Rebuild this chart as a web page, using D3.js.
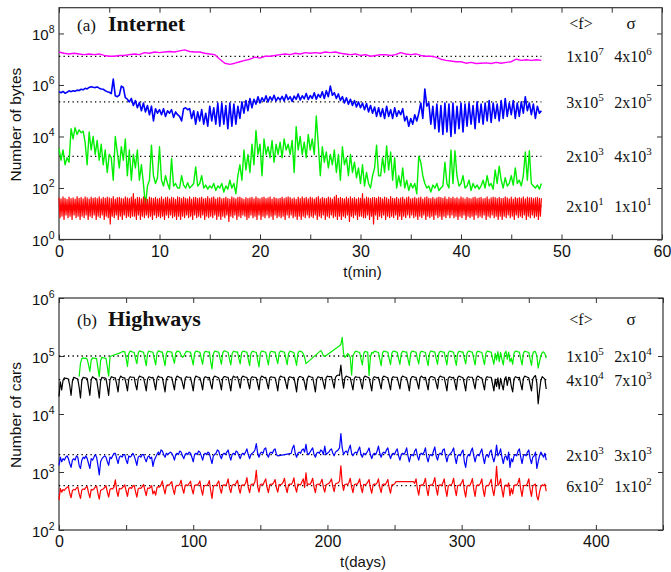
<!DOCTYPE html>
<html>
<head>
<meta charset="utf-8">
<script src="https://cdn.jsdelivr.net/npm/d3@7"></script>
<style>
  body { margin: 0; background: #fff; }
</style>
</head>
<body>
<svg id="chart" width="671" height="572"></svg>
<script>
// ---------- data: (a) Internet, sampled in minutes ----------
const tFine = d3.range(0, 48.001, 0.2);    // 241 samples
const tCoarse = d3.range(0, 48.001, 0.5);  // 97 samples
const tDense = d3.range(0, 48.001, 0.1);   // 481 samples

const netMagenta = [
  1.9e7,1.7e7,1.6e7,1.7e7,1.6e7,1.5e7,1.6e7,1.5e7,1.6e7,1.4e7,
  1.3e7,1.3e7,1.4e7,1.4e7,1.5e7,1.6e7,1.5e7,1.8e7,1.7e7,1.9e7,
  1.8e7,1.9e7,2.0e7,1.9e7,2.1e7,2.3e7,2.0e7,1.9e7,1.9e7,1.7e7,
  1.6e7,1.5e7,1.0e7,7.0e6,6.3e6,7.0e6,8.0e6,9.0e6,1.0e7,1.2e7,
  1.1e7,1.3e7,1.3e7,1.4e7,1.5e7,1.6e7,1.5e7,1.7e7,1.6e7,1.8e7,
  1.7e7,1.8e7,1.7e7,1.9e7,1.8e7,1.9e7,1.7e7,1.6e7,1.5e7,1.6e7,
  1.4e7,1.5e7,1.3e7,1.4e7,1.5e7,1.5e7,1.4e7,1.5e7,1.8e7,1.6e7,
  1.5e7,1.6e7,1.4e7,1.3e7,1.3e7,1.2e7,1.0e7,9.0e6,8.5e6,8.0e6,
  8.0e6,7.0e6,7.5e6,6.8e6,7.0e6,7.2e6,6.8e6,7.5e6,7.0e6,7.5e6,
  8.0e6,1.0e7,9.0e6,9.5e6,9.0e6,9.5e6,9.0e6
];

const netBlue = [
  5.4e5,5.0e5,5.6e5,4.8e5,5.2e5,5.9e5,5.5e5,6.0e5,5.7e5,6.3e5,
  6.1e5,6.8e5,6.5e5,7.4e5,7.0e5,8.0e5,8.6e5,8.2e5,7.9e5,8.4e5,
  7.5e5,7.0e5,6.8e5,6.0e5,5.5e5,5.2e5,4.6e5,1.7e6,3.8e5,3.5e5,
  4.0e5,9.0e5,8.0e5,3.2e5,2.8e5,2.2e5,3.0e5,1.6e5,2.5e5,1.3e5,
  2.1e5,1.0e5,2.0e5,9.0e4,1.6e5,7.0e4,1.5e5,4.0e4,1.2e5,8.0e4,
  1.1e5,7.0e4,1.2e5,6.0e4,1.0e5,8.0e4,1.1e5,5.5e4,9.0e4,7.0e4,
  6.0e4,4.0e4,1.2e5,1.3e5,1.1e5,1.2e5,5.0e4,1.0e5,3.0e4,9.0e4,
  4.0e4,1.1e5,3.0e4,8.0e4,2.5e4,1.5e5,4.0e4,1.3e5,3.0e4,2.0e5,
  2.5e4,2.0e5,3.0e4,1.6e5,2.0e4,2.0e5,2.5e4,1.8e5,3.0e4,1.5e5,
  5.0e4,2.2e5,8.0e4,2.5e5,1.0e5,3.0e5,1.3e5,2.8e5,1.8e5,3.5e5,
  2.0e5,3.2e5,2.3e5,3.8e5,2.2e5,3.5e5,2.5e5,4.0e5,2.4e5,3.3e5,
  2.6e5,3.6e5,2.4e5,4.2e5,2.7e5,3.5e5,2.3e5,3.7e5,2.8e5,4.5e5,
  2.6e5,3.8e5,2.9e5,4.7e5,2.7e5,3.9e5,3.0e5,5.0e5,2.8e5,4.3e5,
  3.3e5,5.5e5,3.0e5,6.0e5,3.5e5,9.0e5,4.0e5,5.0e5,3.0e5,4.5e5,
  2.5e5,3.5e5,2.0e5,3.2e5,1.8e5,2.8e5,1.6e5,2.5e5,1.4e5,2.2e5,
  1.3e5,2.0e5,1.1e5,1.9e5,9.0e4,1.6e5,8.0e4,1.4e5,6.0e4,1.3e5,
  6.0e4,1.2e5,5.0e4,1.5e5,6.0e4,1.1e5,5.0e4,1.3e5,6.0e4,1.0e5,
  7.0e4,1.2e5,4.0e4,6.0e4,2.5e4,5.0e4,3.0e4,7.0e4,4.0e4,8.0e4,
  2.0e5,5.0e4,7.0e5,1.5e5,2.0e5,3.0e4,1.5e5,2.0e4,1.8e5,1.5e4,
  1.6e5,1.2e4,2.0e5,1.5e4,1.8e5,1.0e4,2.0e5,1.3e4,1.5e5,2.0e4,
  2.0e5,1.5e4,1.8e5,2.5e4,2.0e5,3.0e4,1.6e5,2.0e4,2.2e5,3.5e4,
  1.8e5,3.0e4,2.0e5,4.0e4,2.5e5,3.5e4,2.0e5,5.0e4,1.8e5,4.0e4,
  2.5e5,5.0e4,3.0e5,6.0e4,2.0e5,7.0e4,2.5e5,5.0e4,2.0e5,6.0e4,
  2.2e5,8.0e4,3.5e5,1.0e5,2.0e5,7.0e4,1.8e5,5.0e4,1.5e5,8.0e4,
  1.0e5
];

const netGreen = [
  3.4e3,1.2e3,3.0e3,8.0e2,1.5e3,1.0e3,2.0e4,8.0e3,2.2e4,1.2e4,
  1.8e4,1.4e4,1.6e4,6.0e3,8.0e2,1.5e4,3.0e3,1.0e4,2.0e3,7.0e3,
  1.2e3,5.0e3,8.0e2,3.0e3,4.0e2,2.0e3,1.5e3,2.0e2,1.0e4,2.5e3,
  6.0e2,4.0e3,1.2e3,8.0e3,3.0e2,3.0e3,2.0e2,2.0e3,6.0e2,3.0e3,
  2.0e2,8.0e2,1.5e2,2.0e1,1.2e2,2.0e2,4.6e3,3.0e2,1.5e2,2.5e2,
  4.0e3,2.0e2,1.2e2,3.0e2,1.5e2,9.0e1,1.4e3,1.2e2,1.5e2,1.0e2,
  1.0e2,3.0e2,1.3e2,1.0e2,1.6e2,1.0e2,1.2e2,1.5e2,6.6e2,1.2e2,
  1.5e2,3.0e2,1.0e2,1.3e2,9.0e1,1.2e2,1.0e2,1.5e2,8.0e1,1.2e2,
  1.0e2,1.5e2,7.0e1,1.2e2,9.0e1,2.0e2,1.0e2,1.5e2,6.0e1,3.0e2,
  8.0e2,2.0e2,3.0e3,5.0e2,2.0e3,4.0e2,5.0e3,8.0e2,1.7e4,2.0e3,
  5.0e3,3.0e2,8.0e3,2.0e3,4.0e3,1.5e3,7.0e3,1.0e3,5.0e3,2.0e3,
  6.0e3,1.5e3,8.0e3,3.0e3,5.0e3,2.0e3,7.0e3,4.0e2,2.4e4,3.0e3,
  1.0e4,2.0e3,6.0e3,1.5e3,1.2e4,3.0e3,8.0e3,2.0e3,6.2e4,5.0e3,
  3.0e2,4.0e3,1.0e3,2.5e3,6.0e2,2.0e3,8.0e2,3.0e3,4.0e2,2.0e3,
  2.0e2,4.0e3,8.0e2,1.5e3,3.0e2,2.0e3,4.0e2,1.0e3,2.5e2,6.0e2,
  1.5e2,8.0e2,1.2e2,4.0e2,1.5e2,1.0e2,3.0e2,6.0e2,4.6e3,3.0e2,
  3.0e2,1.5e3,4.0e2,4.3e3,5.0e2,2.5e3,2.0e2,1.5e3,1.0e2,3.0e2,
  1.2e2,6.0e2,1.0e2,2.0e2,8.0e1,1.5e2,1.0e2,1.5e2,6.0e1,1.7e3,
  1.0e3,3.0e2,1.5e2,1.0e2,1.2e2,7.0e1,1.3e2,1.0e2,1.5e2,8.0e1,
  1.0e2,1.2e2,1.0e3,1.5e2,1.0e2,3.0e3,1.5e2,2.8e3,3.0e2,1.2e2,
  1.5e2,3.0e2,1.0e2,1.2e2,2.0e2,8.0e1,1.5e2,1.0e2,1.3e2,9.0e1,
  1.2e2,2.0e2,1.0e2,3.0e2,1.2e2,1.5e2,9.0e1,5.0e2,1.5e2,7.0e2,
  2.0e2,1.0e2,2.5e2,1.2e2,1.5e2,3.0e2,1.3e2,6.0e2,1.5e2,2.0e2,
  1.2e2,3.0e2,2.5e3,2.0e2,2.8e3,1.5e2,1.2e2,1.0e2,1.3e2,9.0e1,
  1.5e2
];

// one row per minute, 0.1 min apart
const netRed = [
  42,7,38,8,45,6,40,9,36,7,
  44,8,39,6,41,9,37,7,46,8,
  40,6,43,8,38,7,45,9,41,6,
  37,8,44,7,40,9,42,6,39,8,
  45,7,38,9,43,6,40,8,44,7,
  41,4,39,8,46,7,37,9,42,6,
  43,8,40,6,38,9,45,7,41,8,
  39,7,44,8,60,8,37,6,43,9,
  42,6,38,8,45,7,40,9,36,7,
  44,8,41,6,39,9,43,7,38,8,
  40,7,45,8,37,6,42,9,44,7,
  38,9,43,7,41,8,36,6,45,8,
  42,6,39,8,44,7,40,9,38,7,
  45,8,37,6,42,9,43,7,39,8,
  41,7,44,9,38,6,40,8,46,7,
  39,8,42,7,45,9,37,6,41,8,
  43,6,38,8,40,7,44,9,39,5,
  37,8,45,7,41,9,38,6,43,8,
  44,7,40,9,36,8,42,6,39,7,
  41,9,43,7,38,8,45,6,40,9,
  38,6,42,8,44,7,39,9,41,7,
  45,8,37,6,43,9,40,7,38,8,
  40,7,44,8,39,6,42,9,45,7,
  42,9,38,7,41,8,36,6,44,8,
  39,6,45,8,40,7,43,9,38,7,
  44,8,41,7,37,9,42,6,46,8,
  38,7,43,9,40,6,39,8,44,7,
  41,9,37,7,45,8,52,6,40,8,
  43,6,40,8,38,7,44,9,39,5,
  45,8,39,7,42,9,37,6,41,8,
  40,8,60,7,38,7,44,9,41,6,
  39,8,42,4,42,9,40,6,45,8,
  42,7,38,9,44,6,41,8,37,7,
  46,8,40,7,39,9,43,6,38,8,
  41,6,44,8,37,7,42,9,45,7,
  38,9,40,7,43,8,39,6,41,8,
  44,7,37,9,42,6,45,8,40,7,
  39,8,43,6,38,9,41,7,44,8,
  42,6,40,8,45,7,37,9,43,7,
  40,9,44,7,39,8,42,6,38,8,
  45,7,41,9,37,6,43,8,40,7,
  38,8,42,6,44,9,39,7,41,8,
  43,7,38,9,40,6,45,8,37,7,
  41,9,44,7,42,8,39,6,43,8,
  39,6,40,8,45,7,41,9,38,7,
  44,8,37,6,43,9,40,7,42,8,
  40,7,45,9,38,6,44,8,41,7,
  42,9,39,7,41,8,43,6,40,8,
  40
];

const netMeans = [1.3e7, 2.2e5, 1.7e3, 20];
const netF = [["1", "7"], ["3", "5"], ["2", "3"], ["2", "1"]];
const netSigma = [["4", "6"], ["2", "5"], ["4", "3"], ["1", "1"]];

// ---------- data: (b) Highways, one value per day (null = no data) ----------
const days = d3.range(0, 364);

const hwGreen = [
  null,null,null,null,null,null,null,
  null,null,null,null,null,null,null,
  null,44e3,75e3,90e3,93e3,91e3,92e3,
  88e3,70e3,54e3,85e3,93e3,92e3,91e3,
  90e3,62e3,44e3,84e3,95e3,93e3,92e3,
  91e3,65e3,45e3,98e3,100e3,102e3,104e3,
  106e3,108e3,110e3,112e3,115e3,118e3,120e3,
  118e3,92e3,66e3,110e3,122e3,119e3,117e3,
  116e3,90e3,74e3,112e3,123e3,120e3,118e3,
  117e3,88e3,68e3,110e3,122e3,119e3,118e3,
  116e3,90e3,70e3,111e3,123e3,120e3,117e3,
  118e3,88e3,68e3,110e3,121e3,119e3,118e3,
  117e3,91e3,75e3,112e3,122e3,120e3,117e3,
  104e3,95e3,100e3,112e3,121e3,119e3,118e3,
  117e3,89e3,70e3,111e3,122e3,120e3,118e3,
  116e3,90e3,72e3,110e3,121e3,119e3,117e3,
  118e3,80e3,60e3,108e3,122e3,120e3,118e3,
  117e3,90e3,72e3,112e3,123e3,121e3,118e3,
  116e3,88e3,70e3,110e3,121e3,119e3,117e3,
  118e3,90e3,73e3,112e3,122e3,120e3,118e3,
  117e3,88e3,68e3,110e3,121e3,119e3,117e3,
  116e3,85e3,65e3,110e3,122e3,120e3,118e3,
  117e3,89e3,70e3,111e3,121e3,119e3,117e3,
  118e3,91e3,74e3,112e3,122e3,120e3,118e3,
  117e3,90e3,71e3,110e3,121e3,119e3,117e3,
  116e3,88e3,69e3,111e3,122e3,120e3,118e3,
  110e3,95e3,74e3,null,null,null,null,
  null,null,null,null,null,null,124e3,
  115e3,100e3,98e3,null,null,null,null,
  null,null,null,null,null,null,150e3,
  158e3,210e3,110e3,95e3,100e3,110e3,105e3,
  95e3,47e3,100e3,112e3,121e3,119e3,117e3,
  116e3,88e3,70e3,110e3,120e3,118e3,117e3,
  46e3,95e3,115e3,112e3,121e3,119e3,117e3,
  116e3,88e3,68e3,111e3,122e3,120e3,118e3,
  117e3,89e3,71e3,112e3,122e3,120e3,118e3,
  116e3,90e3,72e3,110e3,121e3,119e3,117e3,
  118e3,88e3,69e3,111e3,122e3,120e3,118e3,
  117e3,90e3,73e3,112e3,121e3,119e3,117e3,
  116e3,87e3,68e3,110e3,122e3,120e3,118e3,
  118e3,90e3,72e3,111e3,121e3,119e3,117e3,
  117e3,89e3,70e3,112e3,122e3,120e3,118e3,
  116e3,88e3,69e3,110e3,121e3,119e3,117e3,
  118e3,90e3,73e3,111e3,122e3,120e3,118e3,
  117e3,89e3,70e3,112e3,121e3,119e3,117e3,
  116e3,88e3,71e3,110e3,122e3,120e3,118e3,
  117e3,90e3,72e3,111e3,85e3,119e3,80e3,
  116e3,88e3,70e3,110e3,121e3,88e3,117e3,
  80e3,92e3,72e3,111e3,122e3,120e3,118e3,
  117e3,89e3,70e3,112e3,121e3,119e3,117e3,
  116e3,88e3,69e3,110e3,120e3,118e3,100e3,
  62e3,80e3,100e3,115e3,118e3,110e3,92e3
];

const hwBlack = [
  20e3,36e3,26e3,38e3,42e3,41e3,41e3,
  40e3,31e3,21e3,37e3,43e3,42e3,41e3,
  40e3,29e3,19e3,38e3,43e3,42e3,42e3,
  41e3,29e3,21e3,39e3,44e3,42e3,41e3,
  40e3,28e3,19e3,37e3,43e3,42e3,42e3,
  41e3,30e3,21e3,39e3,44e3,43e3,42e3,
  42e3,32e3,24e3,40e3,45e3,43e3,42e3,
  42e3,33e3,25e3,40e3,44e3,43e3,43e3,
  43e3,32e3,26e3,41e3,45e3,44e3,43e3,
  42e3,33e3,25e3,40e3,44e3,43e3,42e3,
  43e3,34e3,26e3,41e3,45e3,43e3,43e3,
  42e3,32e3,24e3,40e3,44e3,44e3,43e3,
  43e3,33e3,26e3,41e3,45e3,44e3,42e3,
  42e3,34e3,27e3,41e3,44e3,43e3,43e3,
  43e3,33e3,25e3,40e3,45e3,44e3,43e3,
  42e3,34e3,26e3,41e3,44e3,43e3,42e3,
  43e3,33e3,27e3,42e3,45e3,44e3,43e3,
  42e3,34e3,26e3,41e3,44e3,44e3,43e3,
  43e3,33e3,25e3,40e3,45e3,43e3,43e3,
  44e3,35e3,28e3,42e3,45e3,44e3,43e3,
  43e3,34e3,27e3,41e3,44e3,43e3,43e3,
  42e3,33e3,26e3,41e3,45e3,44e3,42e3,
  43e3,34e3,27e3,42e3,44e3,43e3,43e3,
  42e3,33e3,25e3,41e3,45e3,44e3,43e3,
  43e3,34e3,27e3,42e3,44e3,43e3,42e3,
  43e3,33e3,24e3,40e3,44e3,44e3,43e3,
  42e3,34e3,26e3,41e3,45e3,44e3,43e3,
  43e3,32e3,24e3,40e3,44e3,43e3,42e3,
  43e3,34e3,27e3,42e3,45e3,44e3,44e3,
  44e3,35e3,28e3,43e3,46e3,47e3,46e3,
  70e3,40e3,28e3,42e3,45e3,44e3,43e3,
  42e3,33e3,26e3,41e3,44e3,43e3,43e3,
  43e3,34e3,27e3,42e3,45e3,44e3,43e3,
  42e3,33e3,25e3,41e3,44e3,43e3,42e3,
  43e3,34e3,27e3,42e3,45e3,44e3,43e3,
  42e3,33e3,26e3,41e3,44e3,43e3,43e3,
  43e3,34e3,27e3,42e3,45e3,44e3,43e3,
  42e3,33e3,25e3,40e3,44e3,44e3,43e3,
  43e3,34e3,27e3,42e3,45e3,43e3,42e3,
  43e3,33e3,26e3,41e3,44e3,44e3,43e3,
  42e3,34e3,27e3,42e3,45e3,44e3,43e3,
  43e3,33e3,25e3,41e3,44e3,43e3,42e3,
  43e3,34e3,26e3,42e3,45e3,44e3,43e3,
  42e3,33e3,25e3,41e3,44e3,43e3,43e3,
  43e3,34e3,27e3,42e3,45e3,44e3,42e3,
  42e3,33e3,26e3,41e3,44e3,43e3,43e3,
  43e3,33e3,25e3,40e3,30e3,42e3,27e3,
  41e3,32e3,26e3,40e3,44e3,31e3,43e3,
  42e3,30e3,24e3,40e3,44e3,43e3,42e3,
  43e3,33e3,26e3,41e3,45e3,44e3,43e3,
  42e3,32e3,25e3,40e3,44e3,46e3,34e3,
  15e3,25e3,38e3,44e3,42e3,40e3,27e3
];

const hwBlue = [
  1.3e3,1.8e3,1.5e3,1.7e3,1.6e3,1.8e3,1.9e3,
  1.7e3,1.4e3,1.2e3,1.6e3,1.7e3,1.6e3,1.9e3,
  1.8e3,1.3e3,1.15e3,1.6e3,1.8e3,1.7e3,1.9e3,
  1.7e3,1.4e3,1.15e3,1.7e3,1.6e3,1.8e3,2.0e3,
  1.8e3,1.3e3,0.89e3,1.5e3,1.7e3,1.8e3,1.9e3,
  1.8e3,1.5e3,1.3e3,1.8e3,1.7e3,1.9e3,2.1e3,
  2.1e3,1.7e3,1.4e3,1.8e3,1.9e3,1.8e3,2.0e3,
  2.0e3,1.6e3,1.4e3,1.9e3,1.8e3,1.9e3,2.1e3,
  1.9e3,1.6e3,1.3e3,1.8e3,1.9e3,1.8e3,2.0e3,
  2.0e3,1.7e3,1.5e3,1.8e3,1.9e3,1.7e3,1.8e3,
  1.25e3,1.6e3,1.8e3,2.0e3,2.2e3,2.0e3,2.4e3,
  2.3e3,2.0e3,1.8e3,2.1e3,2.0e3,2.1e3,2.2e3,
  2.1e3,1.9e3,1.6e3,2.0e3,2.1e3,2.0e3,2.3e3,
  2.2e3,1.9e3,1.7e3,2.0e3,2.1e3,2.0e3,2.2e3,
  2.1e3,1.8e3,1.5e3,2.0e3,2.1e3,2.0e3,2.3e3,
  2.2e3,1.9e3,1.6e3,2.0e3,2.1e3,2.0e3,2.2e3,
  2.1e3,1.7e3,1.4e3,1.9e3,2.0e3,2.1e3,2.4e3,
  2.3e3,1.9e3,1.7e3,2.0e3,2.1e3,2.0e3,2.2e3,
  2.4e3,1.9e3,1.6e3,2.0e3,2.1e3,2.0e3,2.3e3,
  2.2e3,1.9e3,1.7e3,2.0e3,2.1e3,2.0e3,2.2e3,
  2.5e3,2.0e3,1.7e3,2.0e3,2.1e3,2.2e3,2.4e3,
  3.1e3,2.1e3,1.8e3,2.1e3,2.2e3,2.1e3,2.5e3,
  2.6e3,2.0e3,1.8e3,2.1e3,2.2e3,2.1e3,2.4e3,
  2.5e3,2.0e3,1.9e3,null,null,null,null,
  null,null,null,null,null,2.1e3,2.6e3,
  2.9e3,2.1e3,1.8e3,2.1e3,2.2e3,2.1e3,2.4e3,
  2.5e3,2.2e3,3.0e3,2.1e3,2.0e3,2.2e3,2.4e3,
  2.6e3,2.0e3,1.8e3,2.1e3,2.2e3,2.1e3,2.4e3,
  2.3e3,2.0e3,2.8e3,2.0e3,2.1e3,2.2e3,2.4e3,
  2.5e3,2.1e3,1.9e3,2.2e3,2.3e3,2.4e3,2.6e3,
  4.6e3,2.6e3,2.0e3,2.2e3,2.3e3,2.1e3,2.5e3,
  2.9e3,2.1e3,1.9e3,2.1e3,2.2e3,2.1e3,2.4e3,
  2.7e3,2.0e3,1.8e3,2.1e3,2.0e3,2.1e3,2.3e3,
  2.6e3,2.0e3,1.7e3,2.0e3,2.1e3,2.0e3,2.3e3,
  2.8e3,2.1e3,1.8e3,2.1e3,2.2e3,2.1e3,2.4e3,
  2.6e3,2.0e3,1.7e3,2.0e3,2.1e3,2.0e3,2.3e3,
  2.5e3,1.9e3,1.6e3,2.0e3,2.1e3,2.0e3,2.2e3,
  2.6e3,1.9e3,1.5e3,1.9e3,2.0e3,1.9e3,2.3e3,
  2.5e3,1.9e3,1.6e3,2.0e3,2.1e3,2.0e3,2.2e3,
  2.6e3,1.8e3,1.5e3,1.9e3,2.0e3,1.9e3,2.3e3,
  2.7e3,1.9e3,1.6e3,2.0e3,2.1e3,2.0e3,2.4e3,
  2.5e3,1.9e3,1.5e3,1.9e3,2.0e3,2.1e3,2.3e3,
  2.6e3,1.8e3,1.4e3,1.9e3,2.0e3,1.9e3,2.2e3,
  2.4e3,1.5e3,1.2e3,1.8e3,2.0e3,1.9e3,2.3e3,
  2.6e3,1.9e3,1.5e3,1.9e3,2.0e3,1.9e3,2.2e3,
  2.5e3,1.8e3,1.4e3,1.9e3,2.0e3,1.8e3,2.2e3,
  2.4e3,1.8e3,1.5e3,1.9e3,2.9e3,1.9e3,2.1e3,
  2.5e3,1.8e3,1.4e3,1.8e3,1.9e3,1.6e3,2.2e3,
  1.2e3,1.7e3,1.5e3,1.9e3,2.0e3,1.9e3,2.3e3,
  2.5e3,1.8e3,1.4e3,1.9e3,2.0e3,1.9e3,2.2e3,
  2.4e3,1.7e3,1.4e3,1.8e3,1.9e3,2.2e3,1.15e3,
  1.5e3,1.9e3,2.2e3,2.0e3,1.8e3,2.1e3,1.6e3
];

const hwRed = [
  330,520,450,500,480,520,540,
  560,430,360,480,500,490,530,
  550,420,350,490,510,500,540,
  560,440,360,500,490,510,550,
  570,430,340,480,500,510,540,
  580,450,370,500,520,510,560,
  730,470,380,520,510,530,560,
  600,470,380,520,540,520,570,
  590,460,370,510,530,520,560,
  610,480,390,530,520,540,580,
  420,470,400,540,560,550,600,
  700,520,420,580,600,590,640,
  680,500,410,570,590,580,620,
  720,520,430,590,600,580,640,
  690,510,420,580,600,590,630,
  700,500,400,570,590,580,620,
  710,480,350,560,590,580,640,
  700,520,430,590,600,580,630,
  760,530,440,590,610,600,650,
  720,520,430,590,600,590,640,
  800,540,440,600,620,610,680,
  1070,560,450,610,620,600,680,
  760,540,440,600,620,610,660,
  740,530,450,610,600,620,670,
  780,540,440,600,620,610,660,
  790,550,450,620,610,600,680,
  760,540,970,600,620,610,670,
  780,550,440,610,620,600,660,
  750,540,450,600,620,630,680,
  760,560,460,620,640,650,700,
  1280,640,480,610,620,600,660,
  780,550,440,600,620,610,660,
  760,540,440,610,600,620,670,
  740,530,430,600,620,610,650,
  760,540,440,610,620,600,660,
  740,530,430,600,610,620,680,
  null,null,null,null,null,null,null,
  null,null,null,null,null,680,640,
  760,520,400,580,600,590,650,
  780,510,390,580,600,590,660,
  800,520,400,590,600,580,650,
  760,500,380,570,600,590,640,
  780,510,390,580,590,600,660,
  740,480,370,570,590,580,650,
  770,500,380,580,600,590,640,
  760,490,380,570,590,580,650,
  750,500,390,580,1250,590,630,
  760,490,370,570,600,560,650,
  390,520,420,580,600,590,660,
  780,500,380,570,590,580,640,
  760,490,380,570,600,620,380,
  330,450,560,600,580,620,470
];

const hwMeans = [1e5, 3.9e4, 2e3, 580];
const hwF = [["1", "5"], ["4", "4"], ["2", "3"], ["6", "2"]];
const hwSigma = [["2", "4"], ["7", "3"], ["3", "3"], ["1", "2"]];

// ---------- drawing ----------
const sans = "'Liberation Sans', Arial, Helvetica, sans-serif";
const serif = "'Liberation Serif', 'Times New Roman', serif";
const svg = d3.select("#chart");

const xA = d3.scaleLinear().domain([0, 60]).range([59, 662]);
const yA = d3.scaleLog().domain([1, 1e9]).range([239.5, 7.7]);
const xB = d3.scaleLinear().domain([0, 450]).range([59, 663]);
const yB = d3.scaleLog().domain([1e2, 1e6]).range([530, 298]);

function drawFrame(x, y, xTicks, xLabelEvery, yTicks, xTitle, yTitle, xTitleY) {
  const g = svg.append("g").attr("color", "#333");
  const [x0, x1] = x.range();
  const [y0, y1] = y.range();

  // ticks on all four sides, pointing inwards
  g.append("g").attr("transform", `translate(0,${y0})`)
    .call(d3.axisBottom(x).tickValues(xTicks).tickSize(-5).tickPadding(6)
      .tickFormat(d => d % xLabelEvery === 0 ? d : ""))
    .call(a => a.select(".domain").remove())
    .call(a => a.selectAll("text").attr("font-family", sans).attr("font-size", 16).attr("fill", "#111"));
  g.append("g").attr("transform", `translate(0,${y1})`)
    .call(d3.axisTop(x).tickValues(xTicks).tickSize(-5).tickFormat(""))
    .call(a => a.select(".domain").remove());
  g.append("g").attr("transform", `translate(${x0},0)`)
    .call(d3.axisLeft(y).tickValues(yTicks).tickSize(-5).tickFormat(""))
    .call(a => a.select(".domain").remove());
  g.append("g").attr("transform", `translate(${x1},0)`)
    .call(d3.axisRight(y).tickValues(yTicks).tickSize(-5).tickFormat(""))
    .call(a => a.select(".domain").remove());

  g.append("rect")
    .attr("x", x0).attr("y", y1)
    .attr("width", x1 - x0).attr("height", y0 - y1)
    .attr("fill", "none").attr("stroke", "#333").attr("stroke-width", 1.2);

  // power-of-ten labels
  yTicks.forEach(v => {
    const t = g.append("text")
      .attr("x", 54.5).attr("y", y(v) + 6.5)
      .attr("text-anchor", "end")
      .attr("font-family", sans).attr("font-size", 15).attr("fill", "#111");
    t.append("tspan").text("10");
    t.append("tspan").attr("dy", -7).attr("font-size", 10.5).text(Math.round(Math.log10(v)));
  });

  g.append("text")
    .attr("x", (x(0) + x(x.domain()[1])) / 2 + 2).attr("y", xTitleY)
    .attr("text-anchor", "middle")
    .attr("font-family", sans).attr("font-size", 15).attr("fill", "#111")
    .text(xTitle);

  g.append("text")
    .attr("transform", `translate(21,${(y0 + y1) / 2 + 1}) rotate(-90)`)
    .attr("text-anchor", "middle")
    .attr("font-family", sans).attr("font-size", 15.5).attr("fill", "#111")
    .text(yTitle);
}

function drawSeries(x, y, ts, vals, color, width) {
  const pts = ts.map((t, i) => [t, vals[i]]).filter(p => p[1] != null);
  svg.append("path")
    .datum(pts)
    .attr("fill", "none")
    .attr("stroke", color)
    .attr("stroke-width", width)
    .attr("stroke-linejoin", "round")
    .attr("d", d3.line().x(d => x(d[0])).y(d => y(d[1])));
}

function drawMeans(x, y, means, tEnd) {
  means.forEach(m => {
    svg.append("line")
      .attr("x1", x(0)).attr("x2", x(tEnd))
      .attr("y1", y(m)).attr("y2", y(m))
      .attr("stroke", "#000").attr("stroke-width", 1.3)
      .attr("stroke-dasharray", "1.3,3.2");
  });
}

function power(g, x, yPos, pair) {
  const t = g.append("text")
    .attr("x", x).attr("y", yPos)
    .attr("text-anchor", "middle")
    .attr("font-family", serif).attr("font-size", 16).attr("fill", "#111");
  t.append("tspan").text(pair[0] + "x10");
  t.append("tspan").attr("dy", -7).attr("font-size", 11).text(pair[1]);
}

function drawLegend(y, means, fs, sigmas, headY) {
  const g = svg.append("g");
  g.append("text").attr("x", 581).attr("y", headY).attr("text-anchor", "middle")
    .attr("font-family", serif).attr("font-size", 16).attr("fill", "#111").text("<f>");
  g.append("text").attr("x", 631).attr("y", headY).attr("text-anchor", "middle")
    .attr("font-family", serif).attr("font-size", 17).attr("fill", "#111").text("σ");
  means.forEach((m, i) => {
    power(g, 585, y(m) + 6, fs[i]);
    power(g, 633, y(m) + 6, sigmas[i]);
  });
}

function drawTitle(tag, name, yBase) {
  const t = svg.append("text").attr("x", 77).attr("y", yBase)
    .attr("font-family", serif).attr("fill", "#111");
  t.append("tspan").attr("font-size", 17).text(tag);
  t.append("tspan").attr("x", 108).attr("font-size", 22).attr("font-weight", "bold").text(name);
}

// (a) Internet
drawFrame(xA, yA, d3.range(0, 61, 5), 10, [1, 1e2, 1e4, 1e6, 1e8], "t(min)", "Number of bytes", 277);
drawMeans(xA, yA, netMeans, 48);
drawSeries(xA, yA, tCoarse, netMagenta, "#ff00ff", 1.4);
drawSeries(xA, yA, tFine, netBlue, "#0000ff", 1.6);
drawSeries(xA, yA, tFine, netGreen, "#00ee00", 1.4);
drawSeries(xA, yA, tDense, netRed, "#ff0000", 1.2);
drawTitle("(a)", "Internet", 31);
drawLegend(yA, netMeans, netF, netSigma, 29);

// (b) Highways
drawFrame(xB, yB, d3.range(0, 451, 50), 100, [1e2, 1e3, 1e4, 1e5, 1e6], "t(days)", "Number of cars", 567);
drawMeans(xB, yB, hwMeans, 365);
drawSeries(xB, yB, days, hwGreen, "#00ee00", 1.2);
drawSeries(xB, yB, days, hwBlack, "#000000", 1.2);
drawSeries(xB, yB, days, hwBlue, "#0000ff", 1.2);
drawSeries(xB, yB, days, hwRed, "#ff0000", 1.2);
drawTitle("(b)", "Highways", 326);
drawLegend(yB, hwMeans, hwF, hwSigma, 325);
</script>
</body>
</html>
